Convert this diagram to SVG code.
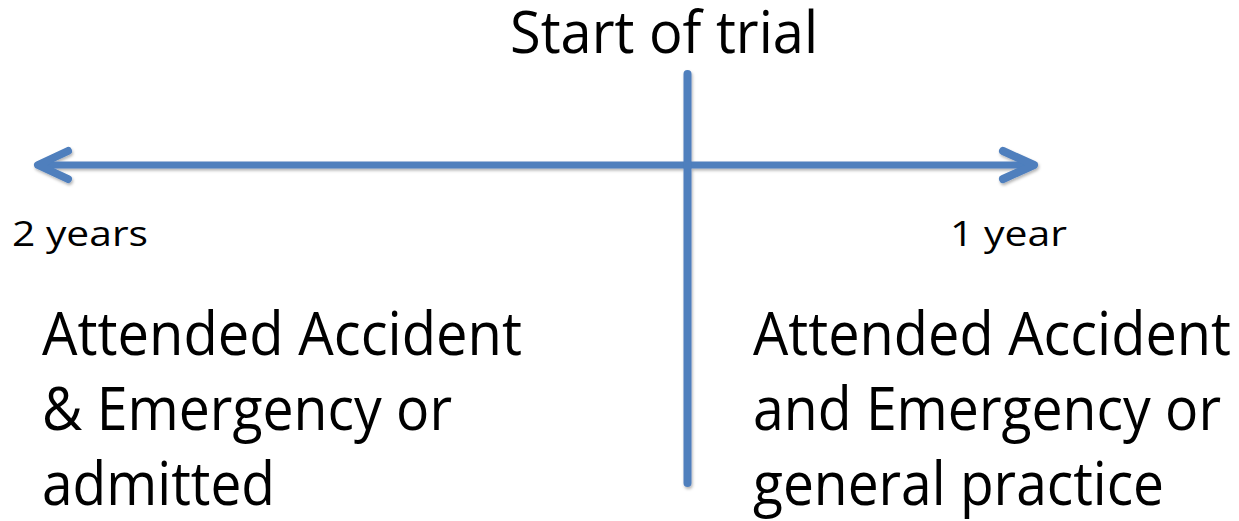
<svg xmlns="http://www.w3.org/2000/svg" width="1239" height="521" viewBox="0 0 1239 521">
<style>
.t{font-family:"Open Sans","Noto Sans","Liberation Sans",sans-serif;fill:#000}
.big{font-size:61px}
.mid{font-size:58px}
.small{font-size:35px}
.ln{stroke:#4F7FBD;fill:none;stroke-linecap:round;stroke-linejoin:round}
</style>
<defs>
<filter id="sh" x="-10%" y="-10%" width="120%" height="130%">
<feDropShadow dx="1" dy="2" stdDeviation="1.5" flood-color="#000" flood-opacity="0.3"/>
</filter>
</defs>
<g id="connectors" filter="url(#sh)">
<line class="ln" x1="40" y1="165" x2="1032" y2="165" stroke-width="7" stroke-linecap="butt"/>
<polyline class="ln" points="68,151 38,165 68,179" stroke-width="8"/>
<polyline class="ln" points="1003,151 1034,165 1003,179" stroke-width="8"/>
<line class="ln" x1="687.5" y1="74" x2="687.5" y2="483" stroke-width="8" stroke-linecap="butt"/>
</g>
<g id="start">
<text class="t mid" x="510" y="53" textLength="308" lengthAdjust="spacingAndGlyphs">Start of trial</text>
</g>
<g id="left-time">
<text class="t small" x="12" y="246" textLength="136" lengthAdjust="spacingAndGlyphs">2 years</text>
</g>
<g id="right-time">
<text class="t small" x="950" y="246" textLength="117" lengthAdjust="spacingAndGlyphs">1 year</text>
</g>
<g id="left-block">
<text class="t big" x="42" y="355" textLength="480" lengthAdjust="spacingAndGlyphs">Attended Accident</text>
<text class="t big" x="42" y="430" textLength="410" lengthAdjust="spacingAndGlyphs">&amp; Emergency or</text>
<text class="t big" x="42" y="505" textLength="233" lengthAdjust="spacingAndGlyphs">admitted</text>
</g>
<g id="right-block">
<text class="t big" x="753" y="355" textLength="478" lengthAdjust="spacingAndGlyphs">Attended Accident</text>
<text class="t big" x="753" y="430" textLength="468" lengthAdjust="spacingAndGlyphs">and Emergency or</text>
<text class="t big" x="753" y="505" textLength="411" lengthAdjust="spacingAndGlyphs">general practice</text>
</g>
</svg>
